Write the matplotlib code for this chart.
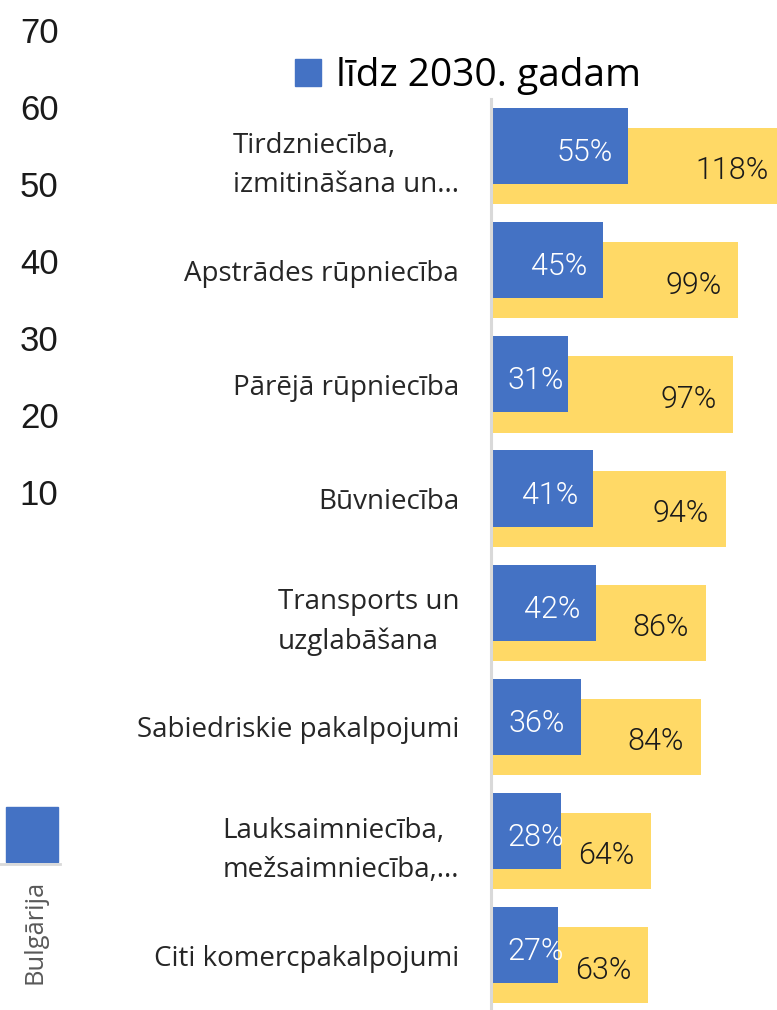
import matplotlib
matplotlib.use("Agg")
import matplotlib.pyplot as plt
from matplotlib.patches import Rectangle
from matplotlib.lines import Line2D

# dati
kategorijas = ["Tirdzniecība,\nizmitināšana un...",
               "Apstrādes rūpniecība",
               "Pārējā rūpniecība",
               "Būvniecība",
               "Transports un\nuzglabāšana",
               "Sabiedriskie pakalpojumi",
               "Lauksaimniecība,\nmežsaimniecība,...",
               "Citi komercpakalpojumi"]
lidz_2030 = [55, 45, 31, 41, 42, 36, 28, 27]
otra_serija = [118, 99, 97, 94, 86, 84, 64, 63]
kreisa_ass = [10, 20, 30, 40, 50, 60, 70]

zils = "#4472C4"
dzeltens = "#FFD966"

plt.rcParams["font.family"] = ["Open Sans", "DejaVu Sans"]

W, H = 777, 1010
fig = plt.figure(figsize=(W / 100, H / 100), dpi=100)

# galvenais grafiks
ax = fig.add_axes([491 / W, 0, (W - 491) / W, (H - 99) / H])
y = list(range(len(kategorijas)))
ax.barh([i + 0.088 for i in y], otra_serija, height=0.667, color=dzeltens, zorder=1)
ax.barh([i - 0.088 for i in y], lidz_2030, height=0.667, color=zils, zorder=2)
ax.set_xlim(0, (W - 491) / 2.495)
ax.set_ylim(7.48, -0.5)

for i, (b, g) in enumerate(zip(lidz_2030, otra_serija)):
    ax.text(max(b - 17.5, 17.8), i - 0.03, f"{b}%", ha="center", va="center",
            color="white", fontsize=22, family="Roboto", fontweight=300)
    ax.text(g - 6.6, i + 0.13, f"{g}%", ha="right", va="center",
            color="#1a1a1a", fontsize=22, family="Roboto", fontweight=300)

ax.set_yticks(y)
ax.set_yticklabels(kategorijas, fontsize=20, color="#262626",
                   multialignment="left", linespacing=1.55)
ax.tick_params(axis="y", length=0, pad=23)
ax.set_xticks([])
for s in ["top", "right", "bottom"]:
    ax.spines[s].set_visible(False)
ax.spines["left"].set_color("#d9d9d9")
ax.spines["left"].set_linewidth(2.2)

# kreisā ass
ax2 = fig.add_axes([60 / W, 1 - 569 / H, 10 / W, (569 - 30) / H])
ax2.set_ylim(0, 70)
ax2.set_yticks(kreisa_ass)
ax2.set_yticklabels([str(v) for v in kreisa_ass], fontsize=25,
                    family="Liberation Sans", color="#1a1a1a")
ax2.tick_params(axis="y", length=0, pad=1)
ax2.set_xticks([])
for s in ax2.spines.values():
    s.set_visible(False)
ax2.patch.set_alpha(0)

# leģenda
h = Rectangle((0, 0), 1, 1, color=zils)
fig.legend([h], ["līdz 2030. gadam"], loc="center left",
           bbox_to_anchor=(295 / W, 1 - 76 / H), frameon=False,
           fontsize=28, handlelength=0.67, handleheight=0.67,
           handletextpad=0.38, borderpad=0, borderaxespad=0)

# apakšējais kreisais stūris
fig.patches.append(Rectangle((6 / W, 1 - 862 / H), 52 / W, 55 / H,
                             transform=fig.transFigure, color=zils))
fig.lines.append(Line2D([0, 60 / W], [1 - 864 / H, 1 - 864 / H],
                        transform=fig.transFigure, color="#d9d9d9", lw=2))
fig.text(35 / W, 1 - 932 / H, "Bulgārija", rotation=90, ha="center",
         va="center", fontsize=18.4, color="#595959")

fig.savefig("out.png", dpi=100)
